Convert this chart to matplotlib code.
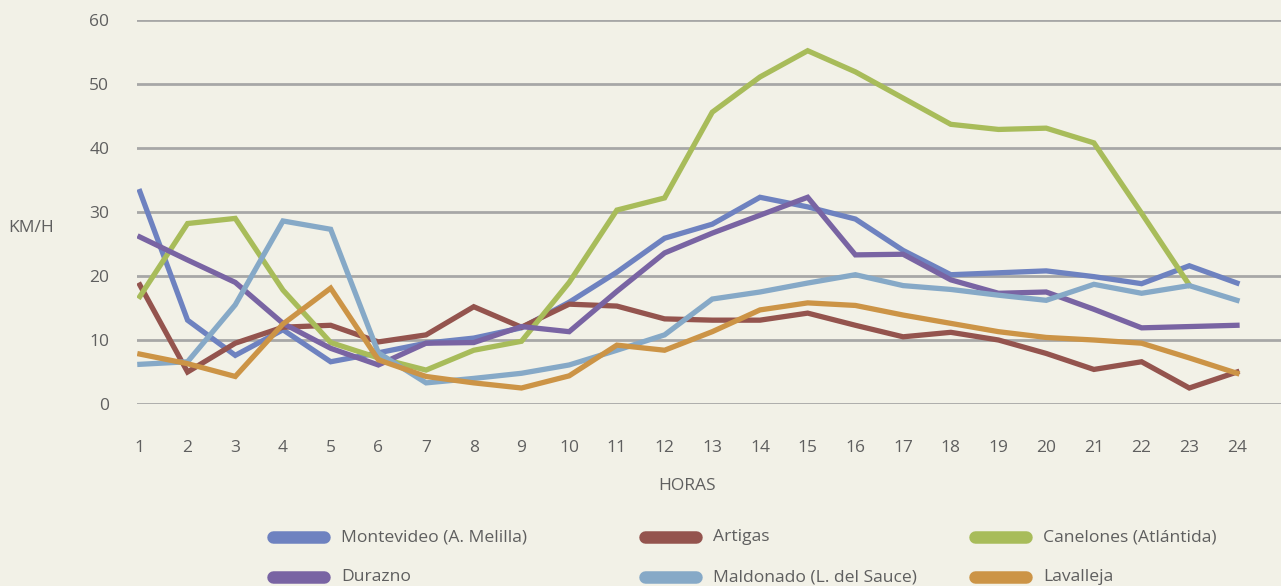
import numpy as np
import matplotlib.pyplot as plt
from matplotlib.lines import Line2D

# hours 1..24
horas = np.arange(1, 25)

montevideo = [33.2, 13.1, 7.6, 11.6, 6.6, 8.0, 9.5, 10.3, 11.9, 15.9, 20.6, 25.9,
              28.1, 32.3, 30.8, 28.9, 24.0, 20.2, 20.5, 20.8, 19.9, 18.8, 21.6, 18.9]
artigas = [18.6, 5.0, 9.5, 12.0, 12.3, 9.7, 10.8, 15.2, 12.0, 15.6, 15.3, 13.3,
           13.1, 13.1, 14.2, 12.3, 10.5, 11.2, 10.0, 7.9, 5.4, 6.6, 2.5, 5.0]
canelones = [16.8, 28.2, 29.0, 17.8, 9.6, 7.2, 5.3, 8.4, 9.8, 19.0, 30.3, 32.2,
             45.6, 51.1, 55.2, 51.9, 47.8, 43.7, 42.9, 43.1, 40.8, 29.8, 18.6, np.nan]
durazno = [26.1, 22.5, 19.0, 12.6, 8.7, 6.1, 9.5, 9.6, 12.1, 11.3, 17.6, 23.6,
           26.7, 29.5, 32.3, 23.3, 23.4, 19.4, 17.3, 17.5, 14.8, 11.9, 12.1, 12.3]
maldonado = [6.2, 6.6, 15.5, 28.6, 27.3, 8.0, 3.3, 4.0, 4.8, 6.1, 8.4, 10.8,
             16.4, 17.5, 18.9, 20.2, 18.5, 17.9, 17.0, 16.2, 18.7, 17.3, 18.5, 16.2]
lavalleja = [7.8, 6.3, 4.3, 12.5, 18.1, 6.9, 4.3, 3.3, 2.5, 4.4, 9.2, 8.4,
             11.3, 14.7, 15.8, 15.4, 13.9, 12.6, 11.3, 10.4, 10.0, 9.5, 7.2, 4.8]

series = [
    ("Montevideo (A. Melilla)", montevideo, "#6e82c0"),
    ("Artigas", artigas, "#94544e"),
    ("Canelones (Atlántida)", canelones, "#a8bc5a"),
    ("Durazno", durazno, "#7964a3"),
    ("Maldonado (L. del Sauce)", maldonado, "#86a9c7"),
    ("Lavalleja", lavalleja, "#cc9446"),
]

bg = "#f2f1e7"
txt = "#5f5f5f"
plt.rcParams['font.family'] = ['Open Sans', 'DejaVu Sans']

W, H = 1281, 586
fig = plt.figure(figsize=(W / 100, H / 100), dpi=100, facecolor=bg)
ax = fig.add_axes([137 / W, (H - 404) / H, 1 - 137 / W, 384 / H])
ax.set_facecolor(bg)

for name, vals, col in series:
    ax.plot(horas, vals, color=col, lw=3.8, solid_joinstyle='miter', label=name)

ax.set_ylim(0, 60)
ax.set_xlim(0.94, 24 + 44 / 47.7)
ax.set_yticks(range(0, 61, 10))
ax.set_xticks(horas)
ax.grid(axis='y', color='#a7a7a7', lw=2.0)
ax.set_axisbelow(True)
for s in ax.spines.values():
    s.set_visible(False)
ax.tick_params(axis='both', length=0, labelsize=12.5, colors=txt)
ax.tick_params(axis='x', pad=26)
ax.tick_params(axis='y', pad=20)

fig.text(31 / W, 1 - 228 / H, "KM/H", ha='center', va='center', fontsize=12.5, color=txt)
fig.text(687 / W, 1 - 486 / H, "HORAS", ha='center', va='center', fontsize=12.5, color=txt)

# legend laid out on a fixed grid like the original
col_x = [268, 640, 970]
row_y = [537, 577]
for i, (name, vals, col) in enumerate(series):
    x0 = col_x[i % 3]
    y0 = 1 - row_y[i // 3] / H
    fig.add_artist(Line2D([(x0 + 5) / W, (x0 + 56) / W], [y0, y0], color=col, lw=9,
                          solid_capstyle='round', transform=fig.transFigure))
    fig.text((x0 + 73) / W, y0, name, ha='left', va='center', fontsize=12.6, color=txt)

fig.savefig("out.png", dpi=100, facecolor=bg)
